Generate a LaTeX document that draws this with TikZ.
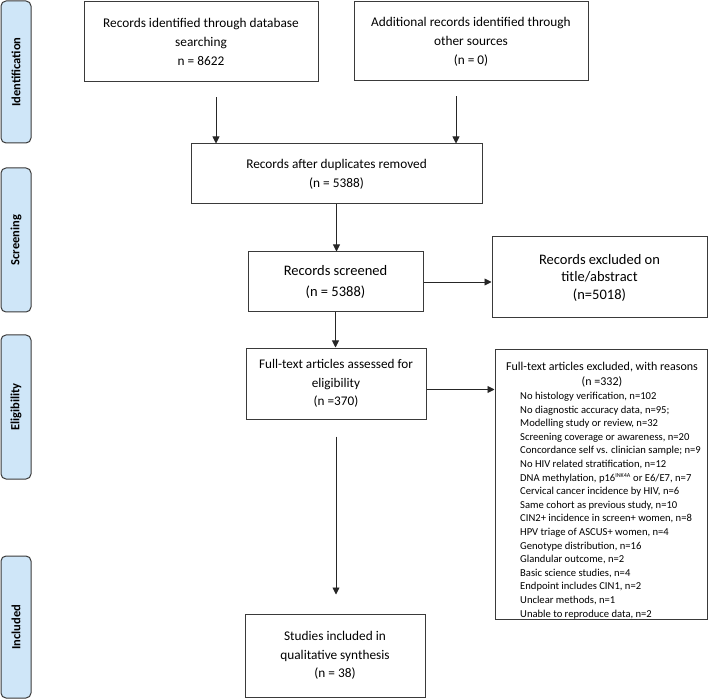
\documentclass[tikz,border=0pt]{standalone}
\usepackage{fontspec}
\setmainfont{Carlito}
\usetikzlibrary{arrows.meta,calc}
\definecolor{sideblue}{HTML}{CFE6F8}
\definecolor{edge}{HTML}{3A3A3A}
\begin{document}
\begin{tikzpicture}[x=1pt,y=-1pt,
  box/.style={draw=edge, line width=1pt, align=center, inner sep=0pt, fill=white},
  side/.style={draw=edge, line width=1pt, fill=sideblue, rounded corners=5pt, rotate=90,
    font=\bfseries\fontsize{12.5}{14}\selectfont, inner sep=0pt, minimum height=30pt},
  arr/.style={draw=black!85, line width=0.9pt, -{Triangle[length=7pt,width=7pt]}},
  plain/.style={inner sep=0pt, align=center},
]
\useasboundingbox (0,0) rectangle (709,700);

% phase labels
\node[side, minimum width=142pt] (sid) at (16,72) {Identification};
\node[side, minimum width=144pt] (ssc) at (16,240) {Screening};
\node[side, minimum width=144pt] (sel) at (16,407) {Eligibility};
\node[side, minimum width=142pt] (sin) at (16,627) {Included};

% boxes
\node[box, minimum width=234pt, minimum height=80pt, font=\fontsize{13.3}{19}\selectfont] (b1) at (201,42)
  {Records identified through database\\searching\\n = 8622};
\node[box, minimum width=234pt, minimum height=79pt, font=\fontsize{13.3}{19}\selectfont] (b2) at (471,41.5)
  {Additional records identified through\\other sources\\(n = 0)};
\node[box, minimum width=291pt, minimum height=60pt, font=\fontsize{13.3}{19}\selectfont] (b3) at (336.5,174)
  {Records after duplicates removed\\(n = 5388)};
\node[box, minimum width=175pt, minimum height=60pt, font=\fontsize{14.5}{21}\selectfont] (scr) at (335.5,282)
  {Records screened\\(n = 5388)};
\node[box, minimum width=215pt, minimum height=81pt, font=\fontsize{14.5}{17.5}\selectfont] (exc) at (599.5,277.5)
  {Records excluded on\\title/abstract\\(n=5018)};
\node[box, minimum width=180pt, minimum height=71pt, font=\fontsize{13.2}{18.5}\selectfont] (ft) at (336,383.5)
  {Full-text articles assessed for\\eligibility\\(n =370)};
\node[box, minimum width=212pt, minimum height=270pt] (rs) at (601,484) {};
\node[box, minimum width=180pt, minimum height=83pt, font=\fontsize{13.3}{18.5}\selectfont] (st) at (335,655.5)
  {Studies included in\\qualitative synthesis\\(n = 38)};

% text of the reasons box
\node[plain, font=\fontsize{12}{15}\selectfont] (rst) at (602,374.5)
  {Full-text articles excluded, with reasons\\(n =332)};
\node[plain, anchor=north west, align=left, font=\fontsize{10.6}{13.6}\selectfont] (rsl) at (520,392)
  {No histology verification, n=102\\
   No diagnostic accuracy data, n=95;\\
   Modelling study or review, n=32\\
   Screening coverage or awareness, n=20\\
   Concordance self vs. clinician sample; n=9\\
   No HIV related stratification, n=12\\
   DNA methylation, p16\textsuperscript{\fontsize{6}{6}\selectfont INK4A} or E6/E7, n=7\\
   Cervical cancer incidence by HIV, n=6\\
   Same cohort as previous study, n=10\\
   CIN2+ incidence in screen+ women, n=8\\
   HPV triage of ASCUS+ women, n=4\\
   Genotype distribution, n=16\\
   Glandular outcome, n=2\\
   Basic science studies, n=4\\
   Endpoint includes CIN1, n=2\\
   Unclear methods, n=1\\
   Unable to reproduce data, n=2};

% connectors
\draw[arr, shorten <=15pt] ([xshift=15pt]b1.south) -- ([xshift=15pt]b1.south |- b3.north);
\draw[arr, shorten <=15pt] ([xshift=-15pt]b2.south) -- ([xshift=-15pt]b2.south |- b3.north);
\draw[arr] (b3.south) -- (b3.south |- scr.north);
\draw[arr] (scr.east) -- (scr.east -| exc.west);
\draw[arr] (scr.south) -- (scr.south |- ft.north);
\draw[arr] ([yshift=-6pt]ft.east) -- ([yshift=-6pt]ft.east -| rs.west);
\draw[arr, shorten <=17pt, shorten >=19pt] (ft.south) -- (ft.south |- st.north);
\end{tikzpicture}
\end{document}
